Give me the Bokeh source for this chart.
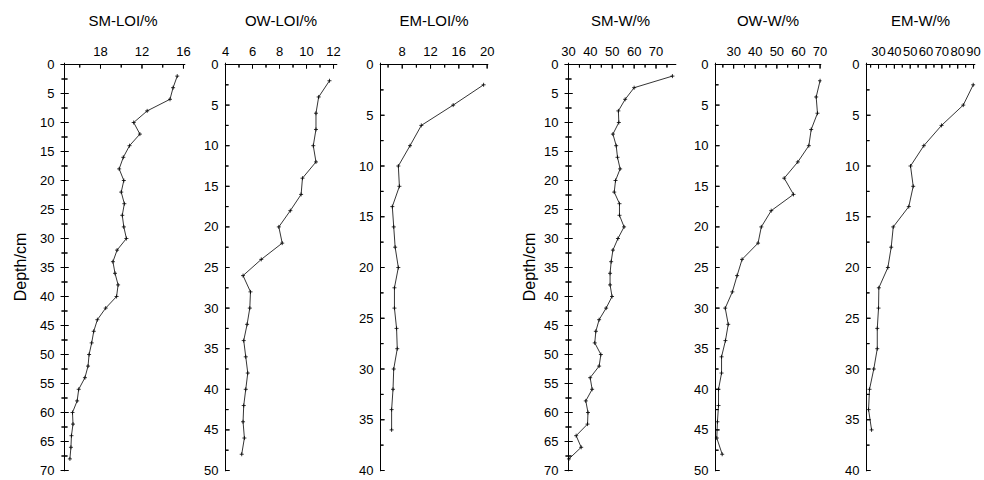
from bokeh.plotting import figure
from bokeh.layouts import row
from bokeh.models import Range1d, FixedTicker, Span, Arrow, Whisker, ColumnDataSource
from bokeh.embed import file_html
from bokeh.resources import INLINE

FONT = "Liberation Sans"

# ---- data ----
sm_depth = [2, 4, 6, 8, 10, 12, 14, 16, 18, 20, 22, 24, 26, 28, 30, 32, 34,
            36, 38, 40, 42, 44, 46, 48, 50, 52, 54, 56, 58, 60, 62, 64, 66, 68]
ow_depth = [2, 4, 6, 8, 10, 12, 14, 16, 18, 20, 22, 24, 26, 28, 30, 32, 34,
            36, 38, 40, 42, 44, 46, 48]
em_depth = [2, 4, 6, 8, 10, 12, 14, 16, 18, 20, 22, 24, 26, 28, 30, 32, 34, 36]

sm_loi = [15.4, 15.0, 14.7, 12.5, 11.2, 11.8, 10.8, 10.2, 9.8, 10.25, 10.0, 10.3,
          10.1, 10.25, 10.5, 9.6, 9.2, 9.4, 9.7, 9.55, 8.5, 7.7, 7.35, 7.15, 6.9,
          6.8, 6.5, 5.9, 5.75, 5.3, 5.35, 5.2, 5.15, 5.05]
ow_loi = [11.7, 10.9, 10.7, 10.7, 10.5, 10.7, 9.7, 9.6, 8.8, 7.95, 8.2, 6.65, 5.3,
          5.85, 5.8, 5.6, 5.35, 5.5, 5.65, 5.5, 5.35, 5.3, 5.4, 5.2]
em_loi = [19.5, 15.2, 10.7, 9.1, 7.45, 7.6, 6.6, 6.8, 7.0, 7.45, 6.9, 6.9, 7.2,
          7.3, 6.8, 6.7, 6.5, 6.5]
sm_w = [77.5, 60.0, 55.9, 52.8, 53.0, 50.3, 51.8, 52.4, 53.6, 51.5, 50.9, 53.3,
        53.3, 55.4, 52.6, 50.3, 49.5, 49.0, 49.0, 49.9, 47.2, 44.0, 42.5, 42.0,
        44.8, 44.0, 39.9, 40.8, 37.9, 38.9, 38.7, 33.5, 35.8, 30.2]
ow_w = [70.0, 68.2, 68.8, 65.9, 64.8, 59.7, 53.4, 57.7, 47.4, 42.8, 41.3, 33.9,
        31.6, 29.4, 26.1, 27.5, 26.2, 24.4, 24.4, 23.0, 23.0, 22.5, 22.2, 24.7]
em_w = [89.8, 83.5, 69.8, 58.6, 50.2, 51.9, 49.1, 39.3, 38.0, 35.9, 30.2, 30.0,
        29.2, 29.2, 27.0, 24.3, 23.7, 25.6]

titles = ["SM-LOI/%", "OW-LOI/%", "EM-LOI/%", "SM-W/%", "OW-W/%", "EM-W/%"]

# tick positions / labels
x_ticks = [[8, 12, 16], [4, 6, 8, 10, 12], [8, 12, 16, 20],
           [30, 40, 50, 60, 70], [30, 40, 50, 60, 70], [30, 40, 50, 60, 70, 80, 90]]
x_minor = [[6, 10, 14], [5, 7, 9, 11], [6, 10, 14, 18],
           [35, 45, 55, 65, 75], [25, 35, 45, 55, 65], [25, 35, 45, 55, 65, 75, 85]]
x_label_overrides = [{8: "18"}, {}, {}, {}, {}, {}]
depth_max = [70, 50, 40, 70, 50, 40]
y_ticks = {70: [0, 5, 10, 15, 20, 25, 30, 35, 40, 45, 50, 55, 60, 65, 70],
           50: [0, 5, 10, 15, 20, 25, 30, 35, 40, 45, 50],
           40: [0, 5, 10, 15, 20, 25, 30, 35, 40]}
y_minor = {70: [2.5, 7.5, 12.5, 17.5, 22.5, 27.5, 32.5, 37.5, 42.5, 47.5, 52.5, 57.5, 62.5, 67.5],
           50: [2.5, 7.5, 12.5, 17.5, 22.5, 27.5, 32.5, 37.5, 42.5, 47.5],
           40: [2.5, 7.5, 12.5, 17.5, 22.5, 27.5, 32.5, 37.5]}

# ---- layout / style ----
axis_x = [(4.53, 16.1), (4.0, 12.22), (4.93, 20.05), (30.0, 78.9), (21.6, 70.2), (22.4, 90.6)]
axis_w = [120, 111, 107, 107, 105, 108]      # axis line length in px
cross_ticks = [True, False, False, True, False, False]
has_depth_label = [True, False, False, True, False, False]
pad_l = [4, 1, 1, 4, 1, 1]
border_l = [60, 24, 24, 50, 24, 24]
border_r = [15, 18, 26, 14, 20, 8]
PAD_R, PAD_T, PAD_B = 1, 2, 1
AXIS_H = 406
BORDER_T, BORDER_B = 62, 8
depth_label_standoff = [8, 0, 0, 3, 0, 0]

series = [(sm_loi, sm_depth), (ow_loi, ow_depth), (em_loi, em_depth),
          (sm_w, sm_depth), (ow_w, ow_depth), (em_w, em_depth)]

panels = []
for i in range(6):
    vals, depth = series[i]
    dm = depth_max[i]
    x0, x1 = axis_x[i]
    ppu = axis_w[i] / (x1 - x0)
    ppy = AXIS_H / dm
    p = figure(output_backend="svg", toolbar_location=None,
               frame_width=axis_w[i] + pad_l[i] + PAD_R,
               frame_height=AXIS_H + PAD_T + PAD_B,
               x_range=Range1d(x0 - pad_l[i] / ppu, x1 + PAD_R / ppu),
               y_range=Range1d(dm + PAD_B / ppy, -PAD_T / ppy),
               x_axis_location="above",
               min_border_left=border_l[i], min_border_right=border_r[i],
               min_border_top=BORDER_T, min_border_bottom=BORDER_B)
    p.outline_line_color = None
    p.grid.visible = False

    # Bokeh axes: labels only
    xa = p.xaxis[0]
    xa.ticker = FixedTicker(ticks=x_ticks[i], minor_ticks=x_minor[i])
    xa.major_label_overrides = x_label_overrides[i]
    xa.axis_label = titles[i]
    xa.axis_label_text_font = FONT
    xa.axis_label_text_font_style = "normal"
    xa.axis_label_text_font_size = "15px"
    xa.axis_label_text_color = "black"
    xa.axis_label_standoff = 15
    xa.major_label_text_font = FONT
    xa.major_label_text_font_size = "13px"
    xa.major_label_text_color = "black"
    xa.major_label_standoff = 7
    xa.major_tick_in = 0
    xa.major_tick_out = 0
    xa.minor_tick_in = 0
    xa.minor_tick_out = 0
    xa.axis_line_color = None
    xa.major_tick_line_color = None
    xa.minor_tick_line_color = None

    ya = p.yaxis[0]
    ya.ticker = FixedTicker(ticks=y_ticks[dm], minor_ticks=y_minor[dm])
    ya.major_label_text_font = FONT
    ya.major_label_text_font_size = "13px"
    ya.major_label_text_color = "black"
    ya.major_tick_in = 0
    ya.major_tick_out = 0
    ya.minor_tick_in = 0
    ya.minor_tick_out = 0
    ya.axis_line_color = None
    ya.major_tick_line_color = None
    ya.minor_tick_line_color = None
    ya.major_label_standoff = 6
    if has_depth_label[i]:
        ya.axis_label = "Depth/cm"
        ya.axis_label_text_font = FONT
        ya.axis_label_text_font_style = "normal"
        ya.axis_label_text_font_size = "16px"
        ya.axis_label_text_color = "black"
        ya.axis_label_standoff = depth_label_standoff[i]

    # axis lines as span annotations
    p.add_layout(Span(location=x0, dimension="height", line_color="black", line_width=1))
    p.add_layout(Span(location=0, dimension="width", line_color="black", line_width=1))

    # tick marks as annotations (lengths in px converted to data units)
    xt = x_ticks[i] + x_minor[i]
    xlen = [4 / ppy] * len(x_ticks[i]) + [3 / ppy] * len(x_minor[i])
    yt = y_ticks[dm] + y_minor[dm]
    yin = [4 / ppu] * len(y_ticks[dm]) + [3 / ppu] * len(y_minor[dm])
    yout = yin if cross_ticks[i] else [0.0] * len(yt)
    xsrc = ColumnDataSource(dict(xs=xt, ys=[0.0] * len(xt), xe=xt, ye=xlen))
    ysrc = ColumnDataSource(dict(xs=[x0 - o for o in yout], ys=yt,
                                 xe=[x0 + n for n in yin], ye=yt))
    for src in (xsrc, ysrc):
        p.add_layout(Arrow(start=None, end=None, x_start="xs", y_start="ys",
                           x_end="xe", y_end="ye", source=src,
                           line_color="black", line_width=1))
    p.add_layout(Whisker(base="xs", lower="ys", upper="ye", dimension="height",
                         source=xsrc, lower_head=None, upper_head=None,
                         line_color="black", line_width=1))
    p.add_layout(Whisker(base="ys", lower="xs", upper="xe", dimension="width",
                         source=ysrc, lower_head=None, upper_head=None,
                         line_color="black", line_width=1))

    p.line(vals, depth, line_color="black", line_width=0.8)
    p.scatter(vals, depth, marker="cross", size=4, line_color="black", line_width=0.8)
    panels.append(p)

layout = row(*panels, spacing=0)
open("out.html", "w").write(file_html(layout, INLINE))
